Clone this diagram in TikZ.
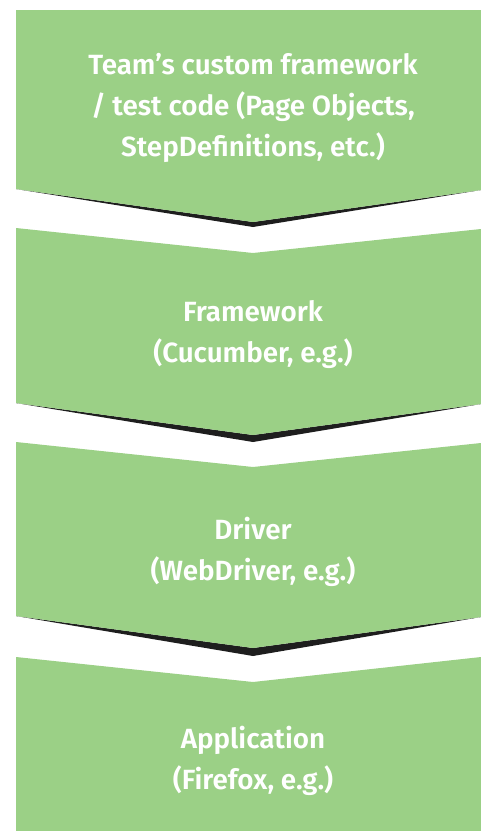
\documentclass[tikz,border=0pt]{standalone}
\usepackage{fontspec}
\setmainfont{Fira Sans}[BoldFont={Fira Sans SemiBold}]
\definecolor{leaf}{RGB}{155,208,134}
\definecolor{shadowc}{RGB}{30,30,30}
\begin{document}
\begin{tikzpicture}[x=1pt,y=-1pt,
  layerfill/.style={fill=leaf},
  layershadow/.style={fill=shadowc},
  lbl/.style={text=white,font=\fontsize{27.8}{41}\selectfont\bfseries,align=center,anchor=base,inner sep=0pt}]
\useasboundingbox (0,0) rectangle (481,831);
% layer 1
\fill[layershadow] (16,189) -- (253,227) -- (481,190) -- (253,222) -- cycle;
\fill[layerfill] (16,10) -- (481,10) -- (481,190) -- (253,222) -- (16,189) -- cycle;
% layer 2
\fill[layershadow] (16,403) -- (253,442) -- (481,404) -- (253,435) -- cycle;
\fill[layerfill] (16,228) -- (253,253) -- (481,229) -- (481,404) -- (253,435) -- (16,403) -- cycle;
% layer 3
\fill[layershadow] (16,616) -- (253,656) -- (481,617) -- (253,648) -- cycle;
\fill[layerfill] (16,442) -- (253,467) -- (481,443) -- (481,617) -- (253,648) -- (16,616) -- cycle;
% layer 4
\fill[layerfill] (16,657) -- (253,682) -- (481,657) -- (481,831) -- (16,831) -- cycle;
% labels (base anchor = baseline of last line)
\node[lbl] (t1) at (253,156) {Team’s custom framework\\/ test code (Page Objects,\\StepDefinitions, etc.)};
\node[lbl] (t2) at (253,362) {Framework\\(Cucumber, e.g.)};
\node[lbl] (t3) at (253,580) {Driver\\(WebDriver, e.g.)};
\node[lbl] (t4) at (253,789) {Application\\(Firefox, e.g.)};
\end{tikzpicture}
\end{document}
